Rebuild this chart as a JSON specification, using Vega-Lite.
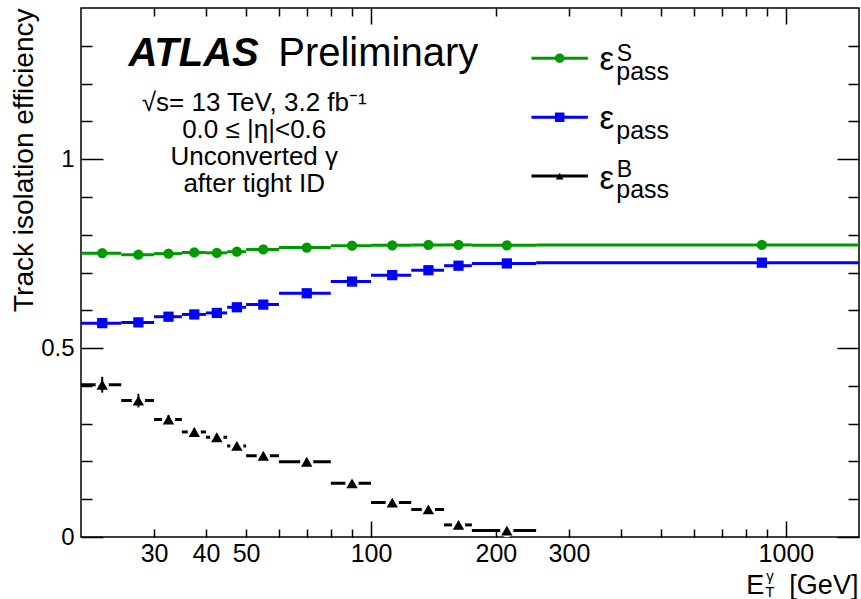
{
  "$schema": "https://vega.github.io/schema/vega-lite/v6.json",
  "width": 778,
  "height": 529,
  "autosize": {"type": "none"},
  "padding": {"left": 81, "top": 8, "right": 2, "bottom": 62},
  "background": "white",
  "config": {
    "view": {"stroke": "black", "strokeWidth": 1.5},
    "font": "Liberation Sans",
    "axis": {
      "domain": false,
      "grid": false,
      "tickColor": "black",
      "tickWidth": 1.5,
      "labelColor": "black",
      "labelFont": "Liberation Sans",
      "titleFont": "Liberation Sans",
      "titleColor": "black",
      "titleFontWeight": "normal",
      "labelFlush": false,
      "labelOverlap": false,
      "labelBound": false
    }
  },
  "resolve": {"axis": {"x": "independent", "y": "independent"}},
  "datasets": {
    "eff": [
      {"series": "S", "lo": 20, "hi": 25, "x": 22.5, "y": 0.751, "err": 0.003},
      {"series": "S", "lo": 25, "hi": 30, "x": 27.5, "y": 0.747, "err": 0.003},
      {"series": "S", "lo": 30, "hi": 35, "x": 32.5, "y": 0.750, "err": 0.003},
      {"series": "S", "lo": 35, "hi": 40, "x": 37.5, "y": 0.753, "err": 0.003},
      {"series": "S", "lo": 40, "hi": 45, "x": 42.5, "y": 0.752, "err": 0.003},
      {"series": "S", "lo": 45, "hi": 50, "x": 47.5, "y": 0.755, "err": 0.003},
      {"series": "S", "lo": 50, "hi": 60, "x": 55, "y": 0.761, "err": 0.003},
      {"series": "S", "lo": 60, "hi": 80, "x": 70, "y": 0.766, "err": 0.003},
      {"series": "S", "lo": 80, "hi": 100, "x": 90, "y": 0.771, "err": 0.003},
      {"series": "S", "lo": 100, "hi": 125, "x": 112.5, "y": 0.772, "err": 0.003},
      {"series": "S", "lo": 125, "hi": 150, "x": 137.5, "y": 0.773, "err": 0.003},
      {"series": "S", "lo": 150, "hi": 175, "x": 162.5, "y": 0.773, "err": 0.003},
      {"series": "S", "lo": 175, "hi": 250, "x": 212.5, "y": 0.772, "err": 0.003},
      {"series": "S", "lo": 250, "hi": 1500, "x": 875, "y": 0.773, "err": 0.003},
      {"series": "all", "lo": 20, "hi": 25, "x": 22.5, "y": 0.566, "err": 0.003},
      {"series": "all", "lo": 25, "hi": 30, "x": 27.5, "y": 0.568, "err": 0.003},
      {"series": "all", "lo": 30, "hi": 35, "x": 32.5, "y": 0.583, "err": 0.003},
      {"series": "all", "lo": 35, "hi": 40, "x": 37.5, "y": 0.589, "err": 0.003},
      {"series": "all", "lo": 40, "hi": 45, "x": 42.5, "y": 0.593, "err": 0.003},
      {"series": "all", "lo": 45, "hi": 50, "x": 47.5, "y": 0.608, "err": 0.003},
      {"series": "all", "lo": 50, "hi": 60, "x": 55, "y": 0.615, "err": 0.003},
      {"series": "all", "lo": 60, "hi": 80, "x": 70, "y": 0.645, "err": 0.003},
      {"series": "all", "lo": 80, "hi": 100, "x": 90, "y": 0.676, "err": 0.003},
      {"series": "all", "lo": 100, "hi": 125, "x": 112.5, "y": 0.693, "err": 0.003},
      {"series": "all", "lo": 125, "hi": 150, "x": 137.5, "y": 0.706, "err": 0.003},
      {"series": "all", "lo": 150, "hi": 175, "x": 162.5, "y": 0.718, "err": 0.003},
      {"series": "all", "lo": 175, "hi": 250, "x": 212.5, "y": 0.724, "err": 0.003},
      {"series": "all", "lo": 250, "hi": 1500, "x": 875, "y": 0.726, "err": 0.003},
      {"series": "B", "lo": 20, "hi": 25, "x": 22.5, "y": 0.403, "err": 0.021},
      {"series": "B", "lo": 25, "hi": 30, "x": 27.5, "y": 0.361, "err": 0.018},
      {"series": "B", "lo": 30, "hi": 35, "x": 32.5, "y": 0.311, "err": 0.012},
      {"series": "B", "lo": 35, "hi": 40, "x": 37.5, "y": 0.278, "err": 0.010},
      {"series": "B", "lo": 40, "hi": 45, "x": 42.5, "y": 0.264, "err": 0.009},
      {"series": "B", "lo": 45, "hi": 50, "x": 47.5, "y": 0.241, "err": 0.009},
      {"series": "B", "lo": 50, "hi": 60, "x": 55, "y": 0.215, "err": 0.008},
      {"series": "B", "lo": 60, "hi": 80, "x": 70, "y": 0.199, "err": 0.007},
      {"series": "B", "lo": 80, "hi": 100, "x": 90, "y": 0.142, "err": 0.007},
      {"series": "B", "lo": 100, "hi": 125, "x": 112.5, "y": 0.091, "err": 0.006},
      {"series": "B", "lo": 125, "hi": 150, "x": 137.5, "y": 0.073, "err": 0.006},
      {"series": "B", "lo": 150, "hi": 175, "x": 162.5, "y": 0.032, "err": 0.005},
      {"series": "B", "lo": 175, "hi": 250, "x": 212.5, "y": 0.017, "err": 0.004}
    ]
  },
  "data": {"name": "eff"},
  "layer": [
    {
      "mark": {"type": "rule", "strokeWidth": 3},
      "encoding": {
        "x": {
          "field": "lo", "type": "quantitative",
          "scale": {"type": "log", "domain": [20, 1500], "nice": false},
          "axis": {"orient": "bottom", "values": [100, 1000], "tickSize": -16, "labelPadding": 20.5, "labelFontSize": 25, "labelExpr": "format(datum.value, 'd')", "title": null}
        },
        "x2": {"field": "hi"},
        "y": {
          "field": "y", "type": "quantitative",
          "scale": {"domain": [0, 1.4], "nice": false, "zero": false},
          "axis": {"orient": "left", "values": [0, 0.5, 1], "tickSize": -22, "labelPadding": 29, "labelFontSize": 24, "labelExpr": "datum.value == 0 ? '0' : datum.value == 1 ? '1' : '0.5'", "title": "Track isolation efficiency", "titleFontSize": 28, "titleAnchor": "end", "titlePadding": 2}
        },
        "color": {"field": "series", "type": "nominal", "scale": {"domain": ["S", "all", "B"], "range": ["#009900", "#0000ff", "#000000"]}, "legend": null}
      }
    },
    {
      "transform": [{"filter": "datum.series == 'B'"}],
      "mark": {"type": "point", "shape": "circle", "filled": true, "color": "white", "opacity": 1, "size": 180},
      "encoding": {
        "x": {
          "field": "x", "type": "quantitative",
          "scale": {"type": "log", "domain": [20, 1500], "nice": false},
          "axis": {"orient": "bottom", "values": [30, 40, 50, 60, 70, 80, 90, 200, 300, 400, 500, 600, 700, 800, 900], "tickSize": -8, "labelPadding": 12.5, "labelFontSize": 25, "labelExpr": "(datum.value == 30 || datum.value == 40 || datum.value == 50 || datum.value == 200 || datum.value == 300) ? format(datum.value, 'd') : ''", "title": null}
        },
        "y": {
          "field": "y", "type": "quantitative",
          "scale": {"domain": [0, 1.4], "nice": false, "zero": false},
          "axis": {"orient": "left", "values": [0.1, 0.2, 0.3, 0.4, 0.6, 0.7, 0.8, 0.9, 1.1, 1.2, 1.3], "tickSize": -11, "labels": false, "title": null}
        }
      }
    },
    {
      "transform": [{"filter": "datum.series == 'B'"}],
      "mark": {"type": "errorbar", "ticks": false, "color": "black", "thickness": 2},
      "encoding": {
        "x": {"field": "x", "type": "quantitative", "scale": {"type": "log", "domain": [20, 1500], "nice": false}, "axis": null},
        "y": {"field": "y", "type": "quantitative", "scale": {"domain": [0, 1.4], "nice": false, "zero": false}, "axis": null},
        "yError": {"field": "err"}
      }
    },
    {
      "transform": [{"filter": "datum.series != 'B'"}],
      "mark": {"type": "point", "filled": true, "opacity": 1, "size": 105},
      "encoding": {
        "x": {
          "field": "x", "type": "quantitative",
          "scale": {"type": "log", "domain": [20, 1500], "nice": false},
          "axis": {"orient": "top", "values": [100, 1000], "tickSize": -16, "labels": false, "title": null}
        },
        "y": {
          "field": "y", "type": "quantitative",
          "scale": {"domain": [0, 1.4], "nice": false, "zero": false},
          "axis": {"orient": "right", "values": [0, 0.5, 1], "tickSize": -22, "labels": false, "title": null}
        },
        "color": {"field": "series", "type": "nominal", "scale": {"domain": ["S", "all", "B"], "range": ["#009900", "#0000ff", "#000000"]}, "legend": null},
        "shape": {"field": "series", "type": "nominal", "scale": {"domain": ["S", "all"], "range": ["circle", "square"]}, "legend": null}
      }
    },
    {
      "transform": [{"filter": "datum.series == 'B'"}],
      "mark": {"type": "point", "shape": "triangle-up", "filled": true, "color": "black", "opacity": 1, "size": 130},
      "encoding": {
        "x": {
          "field": "x", "type": "quantitative",
          "scale": {"type": "log", "domain": [20, 1500], "nice": false},
          "axis": {"orient": "top", "values": [30, 40, 50, 60, 70, 80, 90, 200, 300, 400, 500, 600, 700, 800, 900], "tickSize": -8, "labels": false, "title": null}
        },
        "y": {
          "field": "y", "type": "quantitative",
          "scale": {"domain": [0, 1.4], "nice": false, "zero": false},
          "axis": {"orient": "right", "values": [0.1, 0.2, 0.3, 0.4, 0.6, 0.7, 0.8, 0.9, 1.1, 1.2, 1.3], "tickSize": -11, "labels": false, "title": null}
        }
      }
    },
    {
      "data": {"values": [{}]},
      "mark": {"type": "text", "text": "ATLAS", "fontStyle": "italic", "fontWeight": "bold", "fontSize": 40, "align": "left", "baseline": "alphabetic", "color": "black"},
      "encoding": {
        "x": {"datum": 26.02, "type": "quantitative", "scale": {"type": "log", "domain": [20, 1500], "nice": false}, "axis": null},
        "y": {"datum": 1.2454, "type": "quantitative", "scale": {"domain": [0, 1.4], "nice": false, "zero": false}, "axis": null}
      }
    },
    {
      "data": {"values": [{}]},
      "mark": {"type": "text", "text": "Preliminary", "fontSize": 40, "align": "left", "baseline": "alphabetic", "color": "black"},
      "encoding": {
        "x": {"datum": 59.75, "type": "quantitative", "scale": {"type": "log", "domain": [20, 1500], "nice": false}, "axis": null},
        "y": {"datum": 1.2454, "type": "quantitative", "scale": {"domain": [0, 1.4], "nice": false, "zero": false}, "axis": null}
      }
    },
    {
      "data": {"values": [{}]},
      "mark": {"type": "text", "text": ["√s= 13 TeV, 3.2 fb⁻¹", "0.0 ≤ |η|<0.6", "Unconverted γ", "after tight ID"], "fontSize": 26, "lineHeight": 27, "align": "center", "baseline": "alphabetic", "color": "black"},
      "encoding": {
        "x": {"datum": 52.3, "type": "quantitative", "scale": {"type": "log", "domain": [20, 1500], "nice": false}, "axis": null},
        "y": {"datum": 1.1285, "type": "quantitative", "scale": {"domain": [0, 1.4], "nice": false, "zero": false}, "axis": null}
      }
    },
    {
      "data": {"values": [{}]},
      "mark": {"type": "rule", "strokeWidth": 3, "color": "#009900"},
      "encoding": {
        "x": {"datum": 243.6, "type": "quantitative", "scale": {"type": "log", "domain": [20, 1500], "nice": false}, "axis": null},
        "x2": {"datum": 333.2},
        "y": {"datum": 1.2673, "type": "quantitative", "scale": {"domain": [0, 1.4], "nice": false, "zero": false}, "axis": null}
      }
    },
    {
      "data": {"values": [{}]},
      "mark": {"type": "rule", "strokeWidth": 3, "color": "#0000ff"},
      "encoding": {
        "x": {"datum": 243.6, "type": "quantitative", "scale": {"type": "log", "domain": [20, 1500], "nice": false}, "axis": null},
        "x2": {"datum": 333.2},
        "y": {"datum": 1.1108, "type": "quantitative", "scale": {"domain": [0, 1.4], "nice": false, "zero": false}, "axis": null}
      }
    },
    {
      "data": {"values": [{}]},
      "mark": {"type": "rule", "strokeWidth": 3, "color": "black"},
      "encoding": {
        "x": {"datum": 243.6, "type": "quantitative", "scale": {"type": "log", "domain": [20, 1500], "nice": false}, "axis": null},
        "x2": {"datum": 333.2},
        "y": {"datum": 0.9551, "type": "quantitative", "scale": {"domain": [0, 1.4], "nice": false, "zero": false}, "axis": null}
      }
    },
    {
      "data": {"values": [{}]},
      "mark": {"type": "point", "shape": "circle", "filled": true, "opacity": 1, "color": "#009900", "size": 90},
      "encoding": {
        "x": {"datum": 284.9, "type": "quantitative", "scale": {"type": "log", "domain": [20, 1500], "nice": false}, "axis": null},
        "y": {"datum": 1.2673, "type": "quantitative", "scale": {"domain": [0, 1.4], "nice": false, "zero": false}, "axis": null}
      }
    },
    {
      "data": {"values": [{}]},
      "mark": {"type": "point", "shape": "square", "filled": true, "opacity": 1, "color": "#0000ff", "size": 90},
      "encoding": {
        "x": {"datum": 284.9, "type": "quantitative", "scale": {"type": "log", "domain": [20, 1500], "nice": false}, "axis": null},
        "y": {"datum": 1.1108, "type": "quantitative", "scale": {"domain": [0, 1.4], "nice": false, "zero": false}, "axis": null}
      }
    },
    {
      "data": {"values": [{}]},
      "mark": {"type": "point", "shape": "triangle-up", "filled": true, "opacity": 1, "color": "black", "size": 60},
      "encoding": {
        "x": {"datum": 284.9, "type": "quantitative", "scale": {"type": "log", "domain": [20, 1500], "nice": false}, "axis": null},
        "y": {"datum": 0.9551, "type": "quantitative", "scale": {"domain": [0, 1.4], "nice": false, "zero": false}, "axis": null}
      }
    },
    {
      "data": {"values": [{}]},
      "mark": {"type": "text", "text": ["ε", "ε", "ε"], "fontSize": 33, "lineHeight": 59.5, "align": "left", "baseline": "alphabetic", "color": "black"},
      "encoding": {
        "x": {"datum": 355.6, "type": "quantitative", "scale": {"type": "log", "domain": [20, 1500], "nice": false}, "axis": null},
        "y": {"datum": 1.2367, "type": "quantitative", "scale": {"domain": [0, 1.4], "nice": false, "zero": false}, "axis": null}
      }
    },
    {
      "data": {"values": [{}]},
      "mark": {"type": "text", "text": ["pass", "pass", "pass"], "fontSize": 25, "lineHeight": 58.85, "align": "left", "baseline": "alphabetic", "color": "black"},
      "encoding": {
        "x": {"datum": 390.0, "type": "quantitative", "scale": {"type": "log", "domain": [20, 1500], "nice": false}, "axis": null},
        "y": {"datum": 1.2084, "type": "quantitative", "scale": {"domain": [0, 1.4], "nice": false, "zero": false}, "axis": null}
      }
    },
    {
      "data": {"values": [{}]},
      "mark": {"type": "text", "text": "S", "fontSize": 23, "align": "left", "baseline": "alphabetic", "color": "black"},
      "encoding": {
        "x": {"datum": 391, "type": "quantitative", "scale": {"type": "log", "domain": [20, 1500], "nice": false}, "axis": null},
        "y": {"datum": 1.2586, "type": "quantitative", "scale": {"domain": [0, 1.4], "nice": false, "zero": false}, "axis": null}
      }
    },
    {
      "data": {"values": [{}]},
      "mark": {"type": "text", "text": "B", "fontSize": 23, "align": "left", "baseline": "alphabetic", "color": "black"},
      "encoding": {
        "x": {"datum": 391, "type": "quantitative", "scale": {"type": "log", "domain": [20, 1500], "nice": false}, "axis": null},
        "y": {"datum": 0.9525, "type": "quantitative", "scale": {"domain": [0, 1.4], "nice": false, "zero": false}, "axis": null}
      }
    },
    {
      "data": {"values": [{}]},
      "mark": {"type": "text", "text": "E", "fontSize": 27, "align": "left", "baseline": "alphabetic", "color": "black"},
      "encoding": {
        "x": {"datum": 802.7, "type": "quantitative", "scale": {"type": "log", "domain": [20, 1500], "nice": false}, "axis": null},
        "y": {"datum": -0.1504, "type": "quantitative", "scale": {"domain": [0, 1.4], "nice": false, "zero": false}, "axis": null}
      }
    },
    {
      "data": {"values": [{}]},
      "mark": {"type": "text", "text": "T", "fontSize": 15, "align": "left", "baseline": "alphabetic", "color": "black"},
      "encoding": {
        "x": {"datum": 891.5, "type": "quantitative", "scale": {"type": "log", "domain": [20, 1500], "nice": false}, "axis": null},
        "y": {"datum": -0.1583, "type": "quantitative", "scale": {"domain": [0, 1.4], "nice": false, "zero": false}, "axis": null}
      }
    },
    {
      "data": {"values": [{}]},
      "mark": {"type": "text", "text": "γ", "fontSize": 15, "align": "left", "baseline": "alphabetic", "color": "black"},
      "encoding": {
        "x": {"datum": 896, "type": "quantitative", "scale": {"type": "log", "domain": [20, 1500], "nice": false}, "axis": null},
        "y": {"datum": -0.1161, "type": "quantitative", "scale": {"domain": [0, 1.4], "nice": false, "zero": false}, "axis": null}
      }
    },
    {
      "data": {"values": [{}]},
      "mark": {"type": "text", "text": "[GeV]", "fontSize": 27, "align": "right", "baseline": "alphabetic", "color": "black"},
      "encoding": {
        "x": {"datum": 1495, "type": "quantitative", "scale": {"type": "log", "domain": [20, 1500], "nice": false}, "axis": null},
        "y": {"datum": -0.1504, "type": "quantitative", "scale": {"domain": [0, 1.4], "nice": false, "zero": false}, "axis": null}
      }
    }
  ]
}
